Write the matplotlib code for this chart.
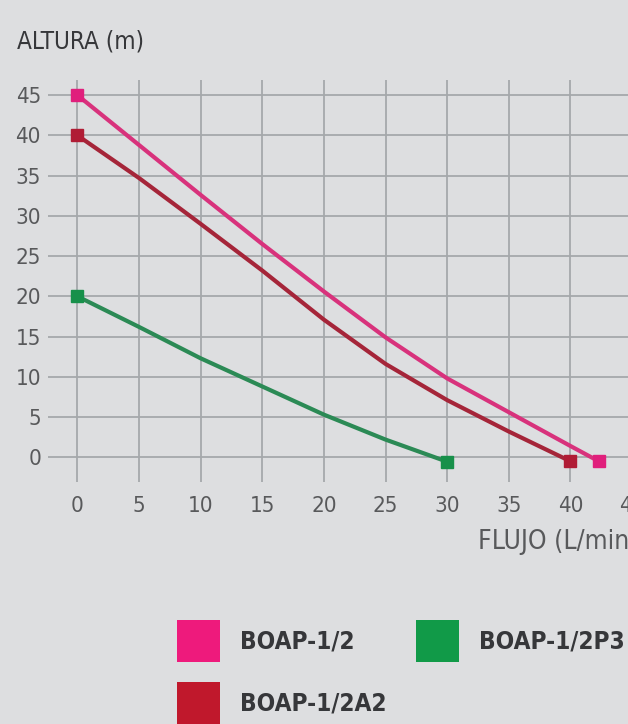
import matplotlib
matplotlib.use("Agg")
import matplotlib.pyplot as plt
from matplotlib.patches import Patch

# ---- data ----
flow_pink = [0, 5, 10, 15, 20, 25, 30, 35, 40, 42.3]
head_pink = [45, 38.8, 32.6, 26.5, 20.6, 14.9, 9.8, 5.6, 1.4, -0.5]

flow_red = [0, 5, 10, 15, 20, 25, 30, 35, 40]
head_red = [40, 34.7, 29.0, 23.2, 17.1, 11.6, 7.1, 3.2, -0.5]

flow_green = [0, 5, 10, 15, 20, 25, 30]
head_green = [20, 16.2, 12.3, 8.8, 5.3, 2.2, -0.55]

series_names = ["BOAP-1/2", "BOAP-1/2A2", "BOAP-1/2P3"]
x_ticks = [0, 5, 10, 15, 20, 25, 30, 35, 40, 45]
y_ticks = [0, 5, 10, 15, 20, 25, 30, 35, 40, 45]

# ---- style ----
BG = "#dddee0"
GRID = "#a5a8ab"
TXT = "#58595b"
DARK = "#36373a"
FONT = ["DejaVu Sans"]
STRETCH = "condensed"

line_cols = ["#d8327c", "#a52539", "#2b8a55"]
mark_cols = ["#e01f7c", "#b01c35", "#17904a"]
legend_cols = ["#ee1a7c", "#c0182c", "#119a48"]

W, H = 628, 724
fig = plt.figure(figsize=(W / 100, H / 100), dpi=100, facecolor=BG)

# axes geometry (pixels)
px_left, px_top, px_bottom = 48, 80, 482
x0_px, x_unit = 77.3, 12.33
x_right = 47.0
px_right = x0_px + x_right * x_unit
xlim_left = (px_left - x0_px) / x_unit
y0_px, y_unit = 457.3, 8.05
ylim_top = (y0_px - px_top) / y_unit
ylim_bot = (y0_px - px_bottom) / y_unit

ax = fig.add_axes([px_left / W, (H - px_bottom) / H,
                   (px_right - px_left) / W, (px_bottom - px_top) / H])
ax.set_facecolor(BG)
ax.set_xlim(xlim_left, x_right)
ax.set_ylim(ylim_bot, ylim_top)
ax.set_xticks(x_ticks)
ax.set_yticks(y_ticks)
ax.grid(True, color=GRID, linewidth=1.3)
ax.set_axisbelow(True)
for s in ax.spines.values():
    s.set_visible(False)
ax.tick_params(length=0, colors=TXT, labelsize=16)
ax.tick_params(axis="y", pad=5)
ax.tick_params(axis="x", pad=10)
for lab in ax.get_xticklabels() + ax.get_yticklabels():
    lab.set_family(FONT)
    lab.set_stretch(STRETCH)

for xs, ys, lc, mc in [(flow_pink, head_pink, line_cols[0], mark_cols[0]),
                       (flow_red, head_red, line_cols[1], mark_cols[1]),
                       (flow_green, head_green, line_cols[2], mark_cols[2])]:
    ax.plot(xs, ys, color=lc, lw=3, solid_capstyle="round",
            solid_joinstyle="round", zorder=3)
    ax.plot(xs, ys, linestyle="none", marker="s", markersize=9,
            markerfacecolor=mc, markeredgecolor=mc, markevery=[0, len(xs) - 1],
            zorder=4)

fig.text(17 / W, (H - 41) / H, "ALTURA (m)", family=FONT, stretch=STRETCH,
         fontsize=17.5, color=DARK, ha="left", va="center")
fig.text(478 / W, (H - 542) / H, "FLUJO (L/min)", family=FONT, stretch=STRETCH,
         fontsize=19, color=TXT, ha="left", va="center")

handles = [Patch(facecolor=legend_cols[0], edgecolor="none"),
           Patch(facecolor=legend_cols[1], edgecolor="none"),
           Patch(facecolor=legend_cols[2], edgecolor="none")]
leg = fig.legend(handles, series_names, loc="upper left",
                 bbox_to_anchor=(177 / W, (H - 620) / H),
                 ncol=2, frameon=False, borderpad=0, borderaxespad=0,
                 handlelength=1.77, handleheight=2.28, handletextpad=0.82,
                 labelspacing=0.82, columnspacing=1.2,
                 prop={"family": FONT, "stretch": STRETCH, "size": 17.5,
                       "weight": "bold"})
for t in leg.get_texts():
    t.set_color(DARK)

fig.savefig("out.png", dpi=100, facecolor=BG)
